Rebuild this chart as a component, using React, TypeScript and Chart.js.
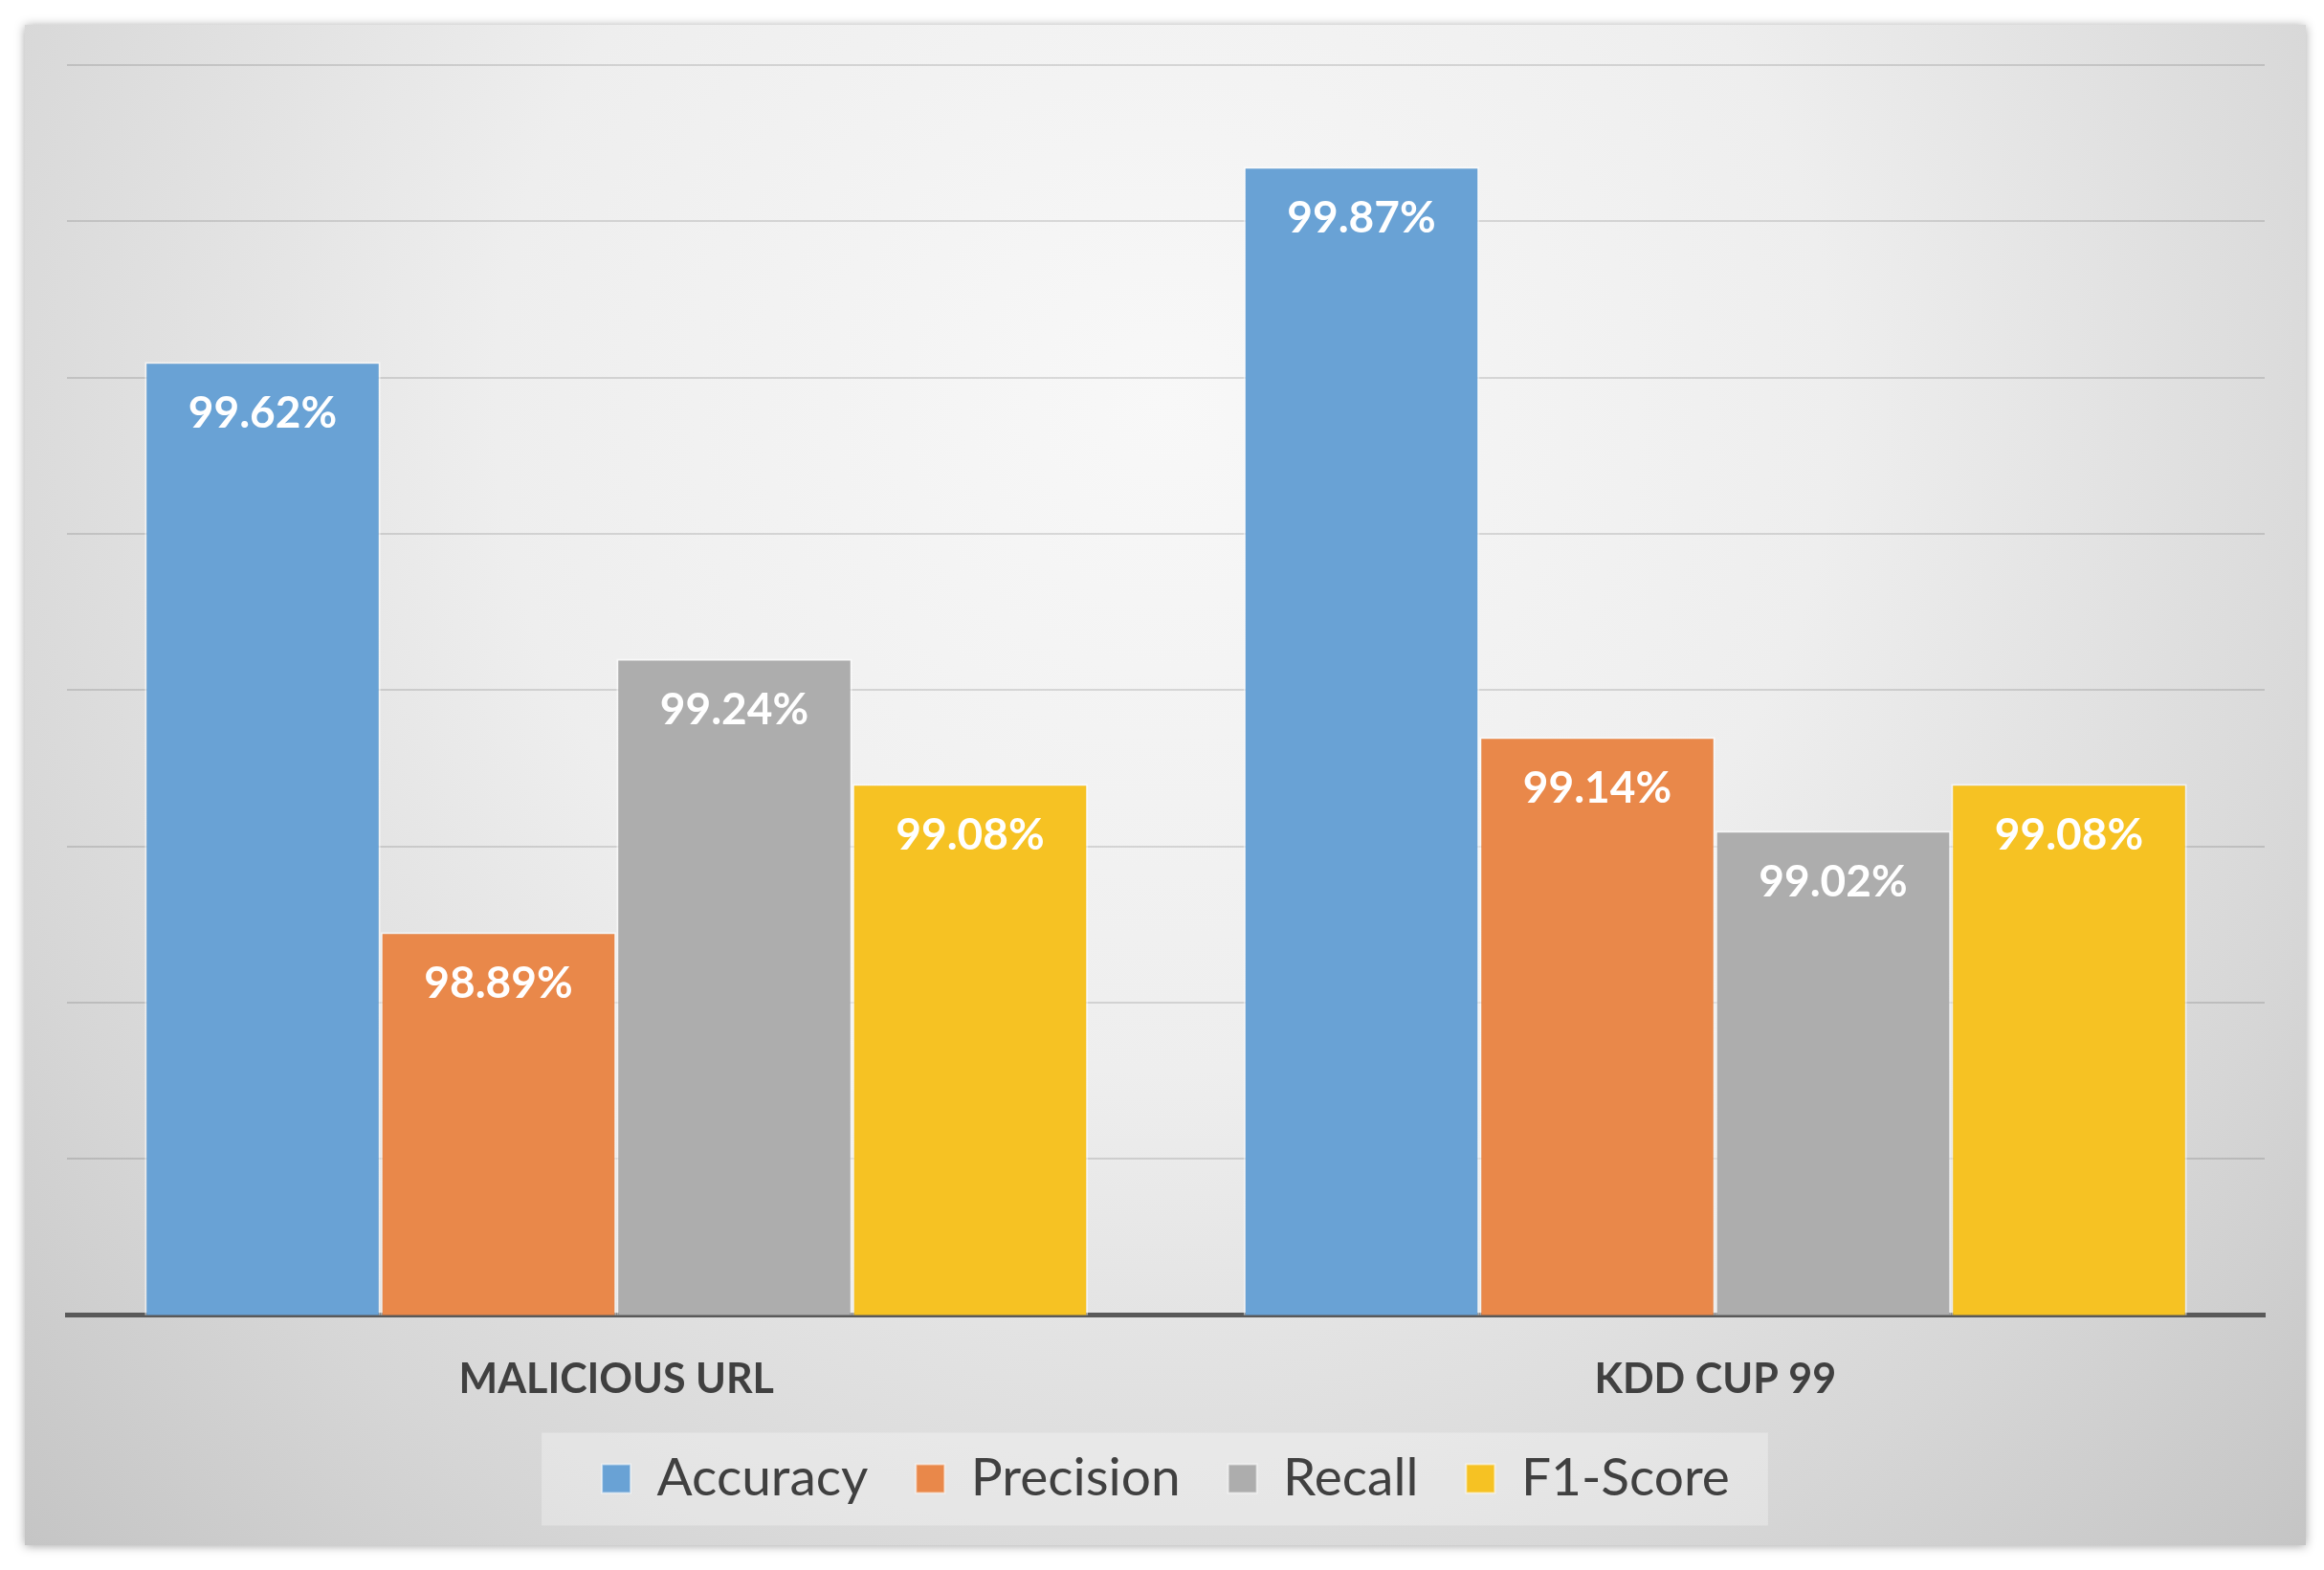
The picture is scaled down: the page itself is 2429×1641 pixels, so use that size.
import React, { useEffect, useRef } from "react";
import { Chart, registerables } from "chart.js";

Chart.register(...registerables);

const categories = ["MALICIOUS URL", "KDD CUP 99"];
const seriesNames = ["Accuracy", "Precision", "Recall", "F1-Score"];
const accuracy = [99.62, 99.87];
const precision = [98.89, 99.14];
const recall = [99.24, 99.02];
const f1Score = [99.08, 99.08];
const seriesColors = ["#69a2d5", "#e9884a", "#adadad", "#f6c223"];
const yMin = 98.4;
const yMax = 100;
const yStep = 0.2;

const W = 2429;
const H = 1641;
const LEGEND_SHIFT = 42;

const bgPlugin = {
  id: "bgPanel",
  afterLayout(chart: any) {
    const lg = chart.legend;
    if (lg) {
      lg.top -= LEGEND_SHIFT;
      lg.bottom -= LEGEND_SHIFT;
    }
  },
  beforeDraw(chart: any) {
    const ctx = chart.ctx;
    ctx.save();
    ctx.fillStyle = "#ffffff";
    ctx.fillRect(0, 0, chart.width, chart.height);
    const px = 26, py = 26, pw = 2384, ph = 1589;
    ctx.shadowColor = "rgba(0,0,0,0.35)";
    ctx.shadowBlur = 10;
    ctx.shadowOffsetY = 1;
    const cx = px + pw / 2;
    const g = ctx.createRadialGradient(cx, 420, 0, cx, 420, 1750);
    g.addColorStop(0, "#f8f8f8");
    g.addColorStop(0.4, "#eeeeee");
    g.addColorStop(0.75, "#d6d6d6");
    g.addColorStop(1, "#c2c2c2");
    ctx.fillStyle = g;
    ctx.fillRect(px, py, pw, ph);
    ctx.shadowColor = "transparent";
    const hb = chart.legend && chart.legend.legendHitBoxes;
    if (hb && hb.length) {
      const first = hb[0];
      const last = hb[hb.length - 1];
      const cy = first.top + first.height / 2;
      const left = first.left - 63;
      const right = last.left + last.width + 40;
      ctx.fillStyle = "rgba(255,255,255,0.3)";
      ctx.fillRect(left, cy - 48, right - left, 97);
    }
    ctx.restore();
  },
};

const labelPlugin = {
  id: "barLabels",
  afterDatasetsDraw(chart: any) {
    const ctx = chart.ctx;
    ctx.save();
    ctx.font = "bold 46px Lato";
    ctx.fillStyle = "#ffffff";
    ctx.textAlign = "center";
    ctx.textBaseline = "middle";
    chart.data.datasets.forEach((ds: any, i: number) => {
      const meta = chart.getDatasetMeta(i);
      meta.data.forEach((bar: any, j: number) => {
        ctx.fillText(ds.data[j].toFixed(2) + "%", bar.x, bar.y + 54);
      });
    });
    ctx.restore();
  },
};

export default function App() {
  const ref = useRef<HTMLCanvasElement>(null);
  useEffect(() => {
    document.body.style.margin = "0";
    const series = [accuracy, precision, recall, f1Score];
    const chart = new Chart(ref.current!, {
      type: "bar",
      data: {
        labels: categories,
        datasets: series.map((d, i) => ({
          label: seriesNames[i],
          data: d,
          backgroundColor: seriesColors[i],
          borderColor: "rgba(255,255,255,0.55)",
          borderWidth: 2,
          barPercentage: 1,
          categoryPercentage: 0.8585,
        })),
      },
      options: {
        responsive: false,
        animation: false,
        devicePixelRatio: 1,
        layout: { padding: { left: 70, right: 62, top: 68, bottom: 16 } },
        plugins: {
          legend: {
            position: "bottom",
            labels: {
              font: { family: "Lato", size: 55 },
              color: "#404040",
              boxWidth: 30,
              boxHeight: 30,
              padding: 50,
            },
          },
          tooltip: { enabled: false },
        },
        scales: {
          x: {
            z: 1,
            grid: { display: false, drawTicks: false },
            border: { display: true, color: "#595959", width: 5 },
            ticks: {
              font: { family: "Lato", size: 43, weight: "bold" },
              color: "#404040",
              padding: 42,
            },
          },
          y: {
            min: yMin,
            max: yMax,
            ticks: { display: false, stepSize: yStep },
            grid: { color: "rgba(0,0,0,0.12)", lineWidth: 2, drawTicks: false },
            border: { display: false },
          },
        },
      },
      plugins: [bgPlugin, labelPlugin],
    });
    return () => chart.destroy();
  }, []);
  return <canvas ref={ref} width={W} height={H} style={{ display: "block", width: W, height: H }} />;
}
